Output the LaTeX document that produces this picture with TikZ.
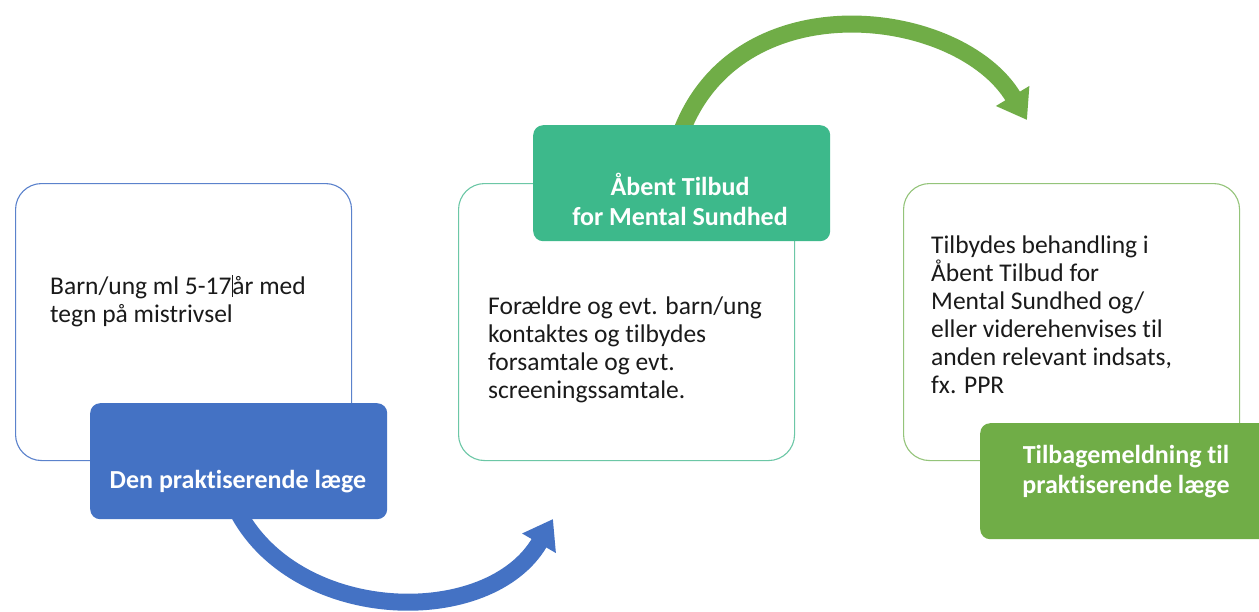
\documentclass[tikz,border=0pt]{standalone}
\usepackage{fontspec}
\setmainfont{Carlito}[Ligatures={NoCommon,NoRequired,NoContextual}]
\usetikzlibrary{arrows.meta,calc}
\definecolor{cblue}{HTML}{4472C4}
\definecolor{cteal}{HTML}{3DB98B}
\definecolor{cgreen}{HTML}{70AD47}
\definecolor{lblue}{HTML}{5B82CC}
\definecolor{lteal}{HTML}{6CC7A6}
\definecolor{lgreen}{HTML}{94C47A}
\definecolor{txt}{HTML}{1A1A1A}
\pgfdeclarelayer{back}
\pgfsetlayers{back,main}
\begin{document}
\begin{tikzpicture}[x=1pt,y=-1pt,
  card/.style={draw, line width=1.1pt, fill=white, rounded corners=26pt, anchor=north west, inner sep=0pt, minimum width=336pt, minimum height=277pt},
  hdr/.style={rounded corners=10pt, anchor=north west, inner sep=0pt, minimum width=297pt, minimum height=116pt},
  hdrtext/.style={text=white, inner sep=0pt, align=center, font=\fontsize{26}{30}\selectfont\bfseries},
  body/.style={anchor=base west, inner sep=0pt, align=left, text=txt, font=\fontsize{25.5}{28}\selectfont},
  bigarrow/.style={line width=17pt, -{Triangle[length=28pt,width=37pt]}}
]
\begin{pgfonlayer}{back}
\fill[white] (0,0) rectangle (1259,611);
\end{pgfonlayer}
\useasboundingbox (0,0) rectangle (1259,611);

% cards
\node[card, draw=lblue] (card1) at (15,183) {};
\node[card, draw=lteal] (card2) at (458,183) {};
\node[card, draw=lgreen] (card3) at (903,183) {};

% body texts (anchor = baseline of last line)
\node[body] (t1) at (50,322) {Barn/ung ml 5-17\rule[-3pt]{0.9pt}{22pt}år med\\tegn på mistrivsel};
\node[body] (t2) at (488,398) {Forældre og evt. barn/ung\\kontaktes og tilbydes\\forsamtale og evt.\\screeningssamtale.};
\node[body] (t3) at (931,393) {Tilbydes behandling i\\Åbent Tilbud for\\Mental Sundhed og/\\eller viderehenvises til\\anden relevant indsats,\\fx. PPR};

% headers
\node[hdr, fill=cblue] (h1) at (90,403) {};
\node[hdr, fill=cteal] (h2) at (533,125) {};
\node[hdr, fill=cgreen, minimum width=300pt] (h3) at (980,423) {};

\node[hdrtext, anchor=base] (h1t) at (238,488) {Den praktiserende læge};
\node[hdrtext, anchor=base] (h2t) at (680,225) {Åbent Tilbud\\for Mental Sundhed};
\node[hdrtext, anchor=base] (h3t) at (1126,493) {Tilbagemeldning til\\praktiserende læge};

% arrows
\coordinate (tip1) at (553,519);
\coordinate (tip2) at (1027,120);
\begin{pgfonlayer}{back}
\draw[bigarrow, draw=cblue] ($(h1.south)+(0,-6)$) .. controls (300,625) and (490,628) .. (tip1);
\draw[bigarrow, draw=cgreen] ($(h2.north)+(0,6)$) .. controls (740,-20) and (960,8) .. (tip2);
\end{pgfonlayer}
\end{tikzpicture}
\end{document}
